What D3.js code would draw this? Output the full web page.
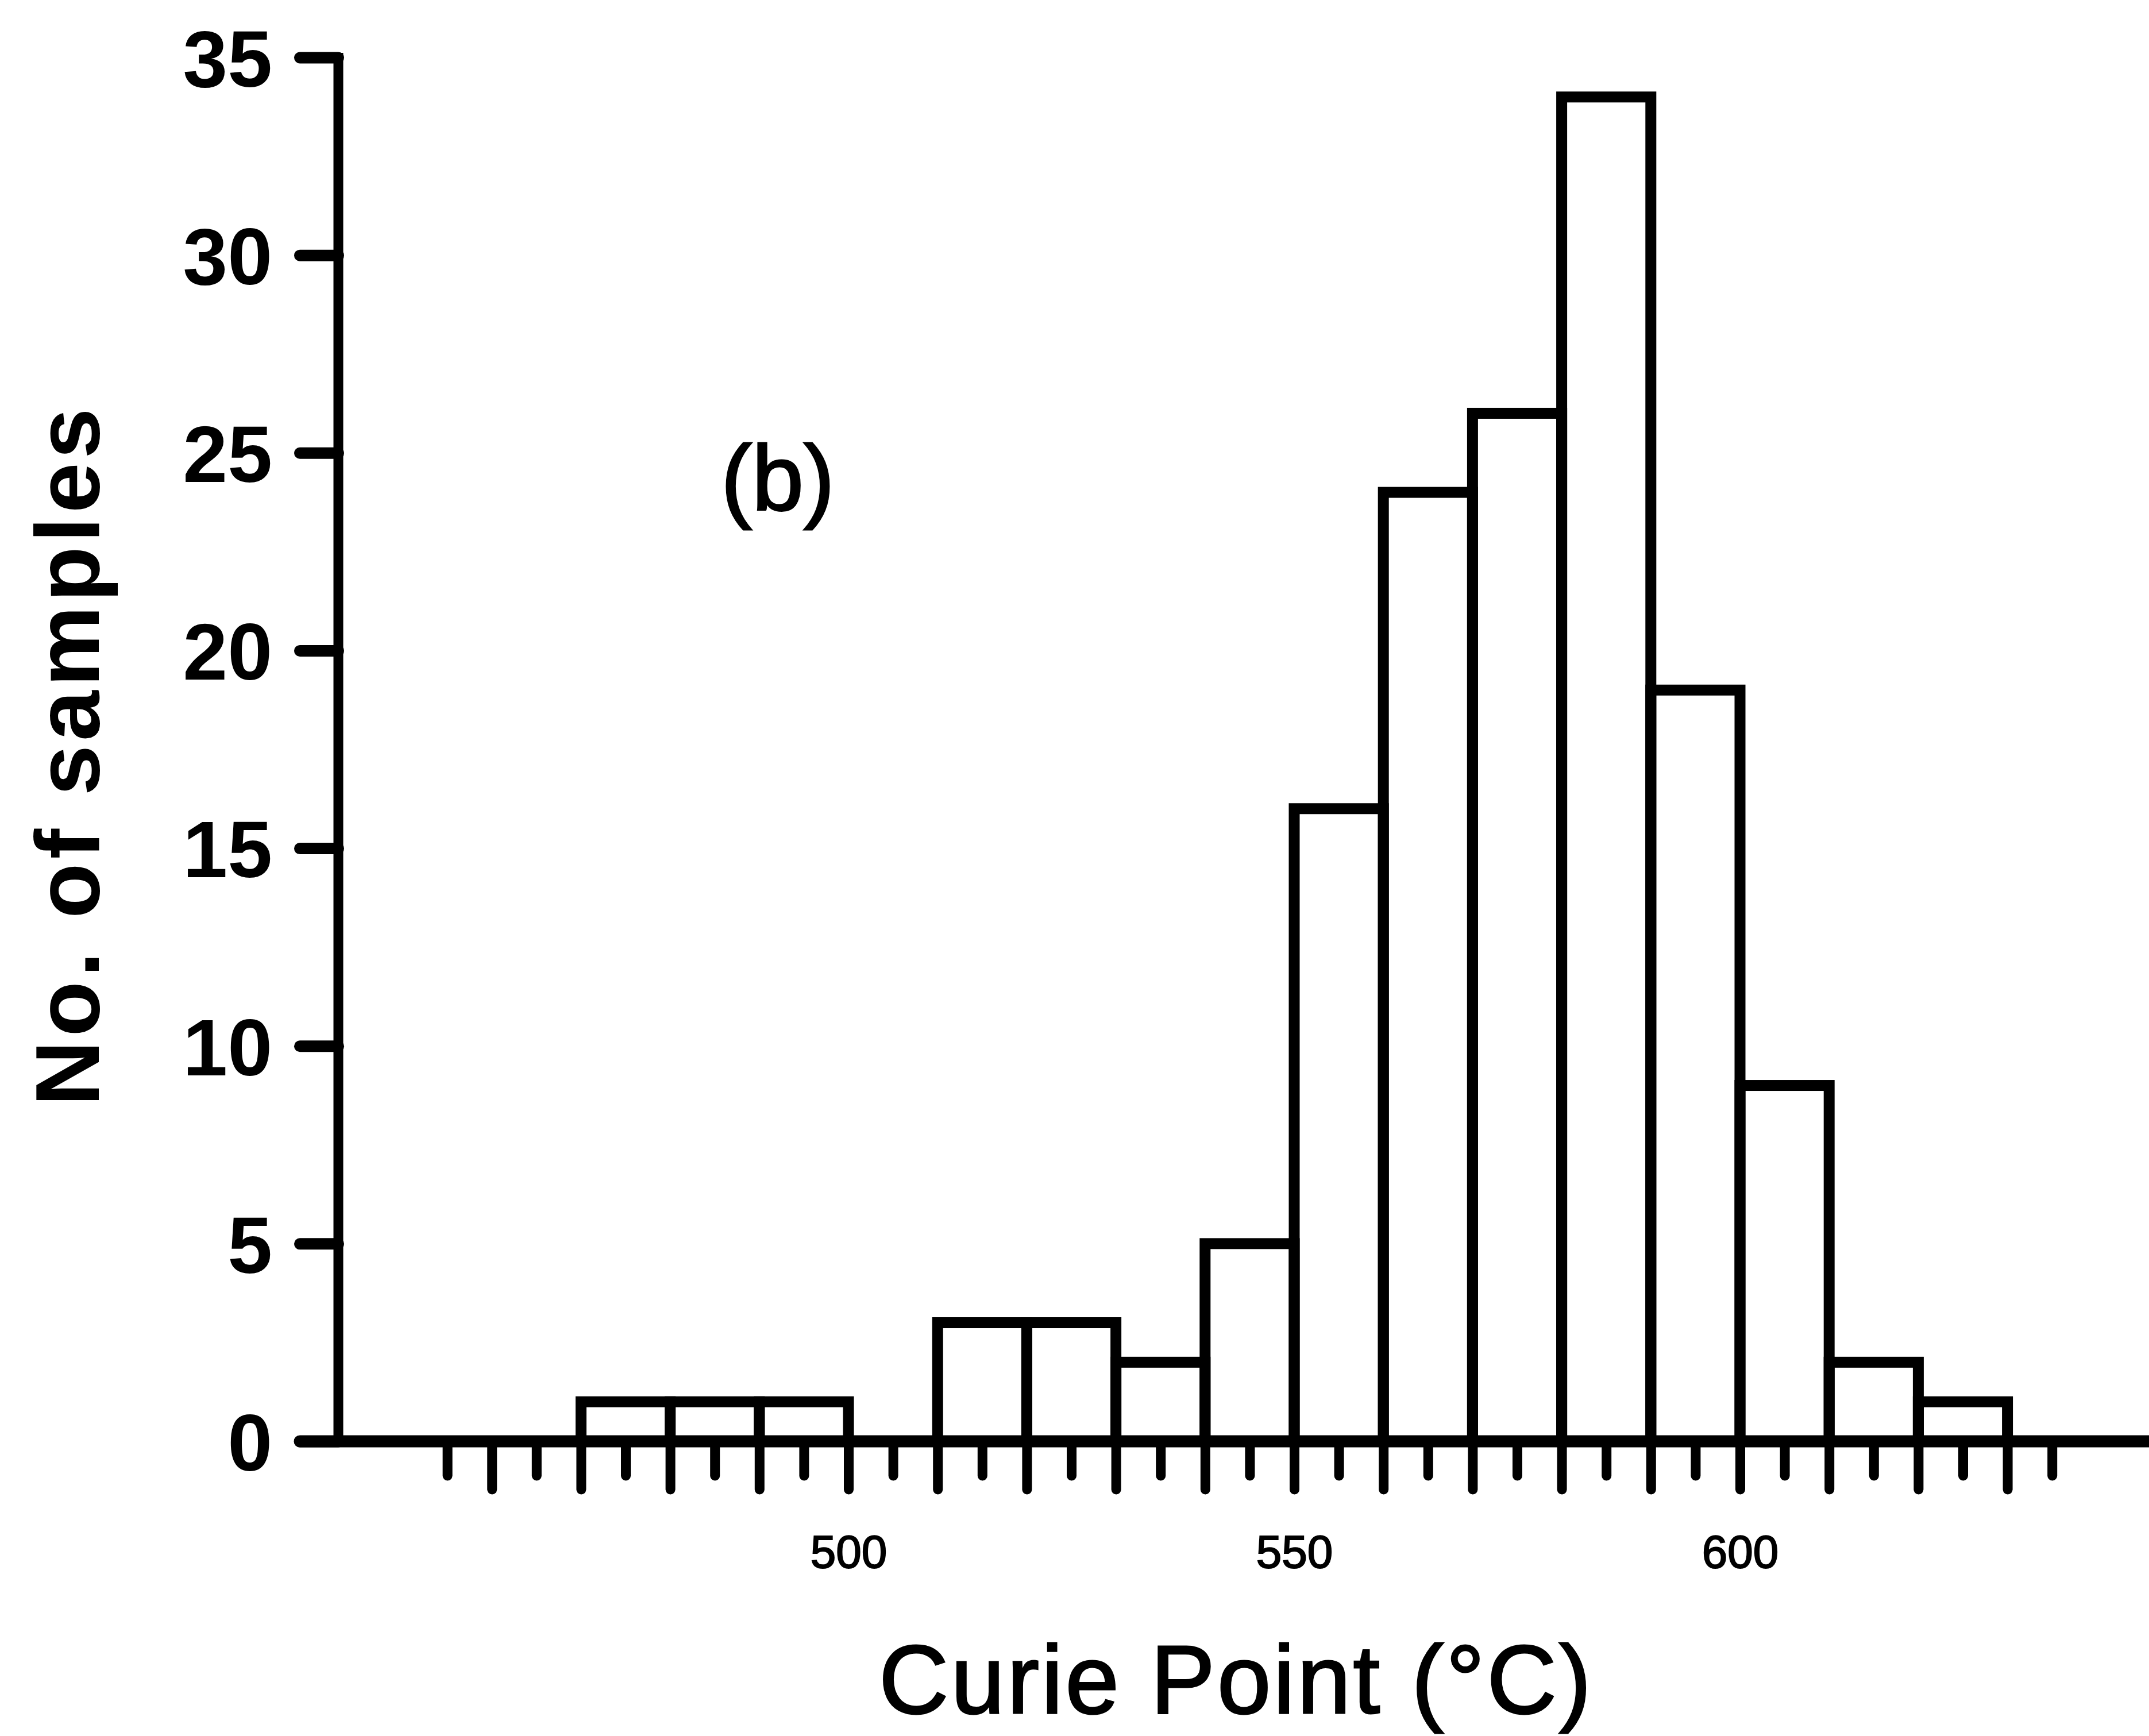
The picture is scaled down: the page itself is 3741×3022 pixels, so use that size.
<!DOCTYPE html>
<html>
<head>
<meta charset="utf-8">
<script src="https://cdn.jsdelivr.net/npm/d3@7"></script>
<style>
  html, body { margin: 0; padding: 0; background: #fff; }
  svg { display: block; }
  text { font-family: "Liberation Sans", Arial, Helvetica, sans-serif; fill: #000; }
</style>
</head>
<body>
<svg id="chart" width="3741" height="3022"></svg>
<script>
// ---- data ----
const binStarts = [470, 480, 490, 500, 510, 520, 530, 540, 550, 560, 570, 580, 590, 600, 610, 620];
const binWidth = 10;
const counts    = [1, 1, 1, 0, 3, 3, 2, 5, 16, 24, 26, 34, 19, 9, 2, 1];
const yTicks = [0, 5, 10, 15, 20, 25, 30, 35];
const xMajorTicks = [460, 470, 480, 490, 500, 510, 520, 530, 540, 550, 560, 570, 580, 590, 600, 610, 620, 630];
const xMinorTicks = [455, 465, 475, 485, 495, 505, 515, 525, 535, 545, 555, 565, 575, 585, 595, 605, 615, 625, 635];
const xLabels = [500, 550, 600];
const xTitle = "Curie Point (°C)";
const yTitle = "No. of samples";
const panelLabel = "(b)";

// ---- layout ----
const W = 3741, H = 3022;
const svg = d3.select("#chart");
const x = d3.scaleLinear().domain([500, 600]).range([1477, 3029]);
const y = d3.scaleLinear().domain([0, 35]).range([2509, 100]);
const ink = "#000";
const axisX = 589;

// bars
svg.append("g").selectAll("rect")
  .data(binStarts.map((s, i) => ({ s, v: counts[i] })).filter(d => d.v > 0))
  .join("rect")
  .attr("x", d => x(d.s))
  .attr("width", d => x(d.s + binWidth) - x(d.s))
  .attr("y", d => y(d.v))
  .attr("height", d => y(0) - y(d.v))
  .attr("fill", "none")
  .attr("stroke", ink)
  .attr("stroke-width", 19);

// y axis
const yAxisG = svg.append("g")
  .attr("transform", `translate(${axisX},0)`)
  .call(d3.axisLeft(y).tickValues(yTicks).tickSize(67).tickPadding(48).tickFormat(d3.format("d")));
yAxisG.select(".domain").remove();
yAxisG.selectAll(".tick line").attr("stroke", ink).attr("stroke-width", 20).attr("stroke-linecap", "round");
yAxisG.selectAll(".tick text")
  .attr("font-size", 140).attr("font-weight", "bold")
  .attr("font-family", "'Liberation Sans', Arial, sans-serif")
  .attr("dy", "0.36em").attr("fill", ink);
yAxisG.append("line")
  .attr("x1", 0).attr("x2", 0)
  .attr("y1", y(35) - 8).attr("y2", y(0))
  .attr("stroke", ink).attr("stroke-width", 17);

// x axis line (extends from y-axis zero tick to the right edge)
svg.append("line")
  .attr("x1", axisX - 67).attr("x2", W)
  .attr("y1", y(0)).attr("y2", y(0))
  .attr("stroke", ink).attr("stroke-width", 21).attr("stroke-linecap", "round");

// x major ticks
const xMajG = svg.append("g")
  .attr("transform", `translate(0,${y(0)})`)
  .call(d3.axisBottom(x).tickValues(xMajorTicks).tickSize(84).tickFormat(""));
xMajG.select(".domain").remove();
xMajG.selectAll(".tick line").attr("stroke", ink).attr("stroke-width", 17).attr("stroke-linecap", "round");

// x minor ticks
const xMinG = svg.append("g")
  .attr("transform", `translate(0,${y(0)})`)
  .call(d3.axisBottom(x).tickValues(xMinorTicks).tickSize(60).tickFormat(""));
xMinG.select(".domain").remove();
xMinG.selectAll(".tick line").attr("stroke", ink).attr("stroke-width", 17).attr("stroke-linecap", "round");

// x labels
const xLabG = svg.append("g")
  .attr("transform", `translate(0,${y(0)})`)
  .call(d3.axisBottom(x).tickValues(xLabels).tickSize(0).tickPadding(0).tickFormat(d3.format("d")));
xLabG.select(".domain").remove();
xLabG.selectAll(".tick line").remove();
xLabG.selectAll(".tick text")
  .attr("y", 220).attr("dy", 0)
  .attr("font-size", 80)
  .attr("stroke", ink).attr("stroke-width", 2)
  .attr("font-family", "'Liberation Sans', Arial, sans-serif")
  .attr("fill", ink);

// axis titles
svg.append("text")
  .attr("transform", `translate(172, 1318) rotate(-90)`)
  .attr("text-anchor", "middle")
  .attr("font-size", 158).attr("font-weight", "bold")
  .attr("textLength", 1215).attr("lengthAdjust", "spacing")
  .text(yTitle);

svg.append("text")
  .attr("x", 2150).attr("y", 2982)
  .attr("text-anchor", "middle")
  .attr("font-size", 168)
  .attr("stroke", ink).attr("stroke-width", 3)
  .attr("textLength", 1240).attr("lengthAdjust", "spacing")
  .text(xTitle);

// panel label
svg.append("text")
  .attr("x", 1255).attr("y", 888)
  .attr("font-size", 162)
  .attr("stroke", ink).attr("stroke-width", 3)
  .text(panelLabel);
</script>
</body>
</html>
